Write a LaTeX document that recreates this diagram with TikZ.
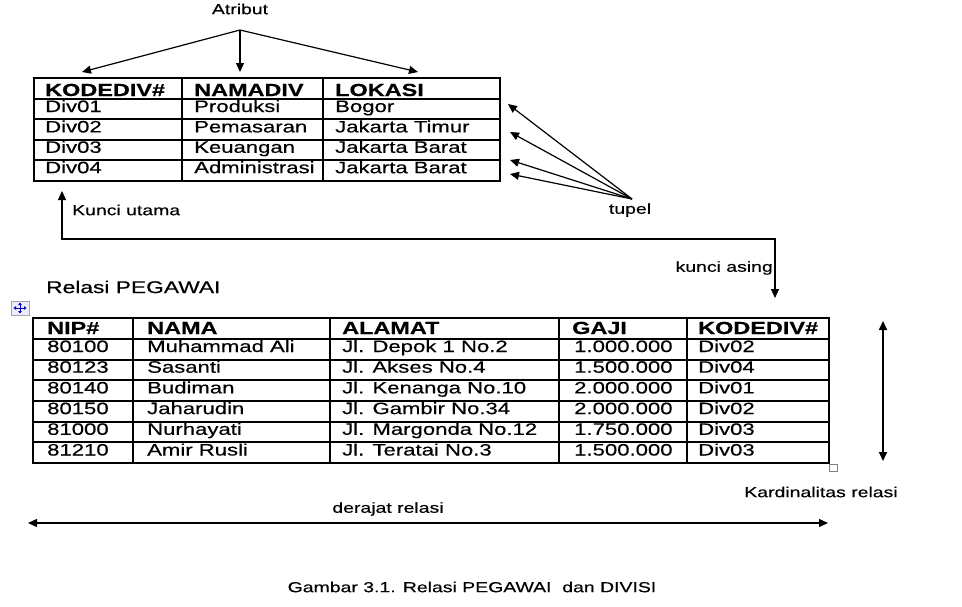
\documentclass[tikz,border=0pt]{standalone}
\usepackage{fontspec}
\setmainfont{Liberation Sans}
\newfontfamily\widefont[FakeStretch=1.34,FakeBold=0.4]{Liberation Sans}
\usetikzlibrary{arrows.meta,positioning}

\begin{document}
\begin{tikzpicture}[x=1pt,y=-1pt,>={Triangle[length=9pt,width=8pt]},
    every node/.style={inner sep=0pt},
    cell/.style={anchor=base west,font=\widefont\fontsize{16.5}{18}\selectfont},
    head/.style={cell,font=\widefont\bfseries\fontsize{17.5}{19}\selectfont},
    lbl/.style={font=\widefont\fontsize{14.5}{16}\selectfont},
    grid/.style={line width=1.3pt},
    frame/.style={line width=2pt},
    conn/.style={->,line width=1.2pt}]
  \useasboundingbox (0,0) rectangle (962,606);

  % Relasi DIVISI
  \draw[grid] (34,78) rectangle (500,181);
  \foreach \y in {99,140,160} \draw[grid] (34,\y) -- (500,\y);
  \draw[frame] (34,119) -- (500,119);
  \foreach \x in {182,323} \draw[grid] (\x,78) -- (\x,181);
  \node[head] (hkode) at (45,96) {KODEDIV\#};
  \node[head] (hnama) at (194,96) {NAMADIV};
  \node[head] (hlok) at (335,96) {LOKASI};
  \foreach \a/\b/\c [count=\i] in {Div01/Produksi/Bogor,
      Div02/Pemasaran/Jakarta Timur, Div03/Keuangan/Jakarta Barat,
      Div04/Administrasi/Jakarta Barat} {
    \pgfmathsetmacro\yb{112+20.4*(\i-1)}
    \node[cell] (div\i) at (45,\yb) {\a};
    \node[cell] (nama\i) at (194,\yb) {\b};
    \node[cell] (lok\i) at (335,\yb) {\c};
  }

  % Atribut
  \node[lbl] (atribut) at (240,9) {Atribut};
  \coordinate (atr) at (240,30);
  \coordinate (atr1) at (82,72);
  \coordinate (atr2) at (240,72);
  \coordinate (atr3) at (418,72);
  \foreach \t in {atr1,atr2,atr3} \draw[conn] (atr) -- (\t);

  % Tupel
  \node[lbl] (tupel) at (630,210) {tupel};
  \coordinate (tp) at (632,199);
  \coordinate (tp1) at (508,104);
  \coordinate (tp2) at (510,132);
  \coordinate (tp3) at (510,160);
  \coordinate (tp4) at (510,174);
  \foreach \t in {tp1,tp2,tp3,tp4} \draw[conn] (tp) -- (\t);

  % Kunci utama / kunci asing
  \coordinate (ut) at (62,191);
  \coordinate (kc) at (775,239);
  \coordinate (ka) at (775,298);
  \draw[conn,<->] (ut) |- (kc) -- (ka);
  \node[lbl,anchor=west] (kutama) at (72,210) {Kunci utama};
  \node[lbl,anchor=east] (kasing) at (773,268) {kunci asing};

  % Relasi PEGAWAI
  \node[anchor=west,font=\widefont\fontsize{17}{19}\selectfont] (judul) at (46,287) {Relasi PEGAWAI};
  \draw[gray!70,fill=blue!8] (11,301) rectangle (29,315);
  \draw[blue!70!black,line width=1pt,<->,>={Triangle[length=2.5pt,width=3.5pt]}] (13.5,308) -- (26.5,308);
  \draw[blue!70!black,line width=1pt,<->,>={Triangle[length=2.5pt,width=3.5pt]}] (20,302.5) -- (20,313.5);

  \draw[frame] (33,318) rectangle (829,463);
  \foreach \y in {339,380,401,442} \draw[grid] (33,\y) -- (829,\y);
  \foreach \y in {360,422} \draw[frame] (33,\y) -- (829,\y);
  \foreach \x in {133,330,559,687} \draw[grid] (\x,318) -- (\x,463);
  \draw[gray,line width=0.8pt,fill=white] (829.5,464) rectangle (837.5,471);
  \node[head] (hnip) at (47,334) {NIP\#};
  \node[head] (hnm) at (147,334) {NAMA};
  \node[head] (hal) at (342,334) {ALAMAT};
  \node[head] (hgaji) at (572,334) {GAJI};
  \node[head] (hdiv) at (698,334) {KODEDIV\#};
  \foreach \a/\b/\c/\d/\e [count=\i] in {80100/Muhammad Ali/Jl. Depok 1 No.2/1.000.000/Div02,
      80123/Sasanti/Jl. Akses No.4/1.500.000/Div04,
      80140/Budiman/Jl. Kenanga No.10/2.000.000/Div01,
      80150/Jaharudin/Jl. Gambir No.34/2.000.000/Div02,
      81000/Nurhayati/Jl. Margonda No.12/1.750.000/Div03,
      81210/Amir Rusli/Jl. Teratai No.3/1.500.000/Div03} {
    \pgfmathsetmacro\yb{352+20.7*(\i-1)}
    \node[cell] (nip\i) at (47,\yb) {\a};
    \node[cell] (peg\i) at (147,\yb) {\b};
    \node[cell] (alm\i) at (342,\yb) {\c};
    \node[cell] (gaji\i) at (574,\yb) {\d};
    \node[cell] (kdv\i) at (698,\yb) {\e};
  }

  % Kardinalitas dan derajat
  \coordinate (kd1) at (883,321);
  \coordinate (kd2) at (883,461);
  \draw[conn,<->,line width=1.7pt] (kd1) -- (kd2);
  \node[lbl] (kardinal) at (821,492) {Kardinalitas relasi};
  \coordinate (dr1) at (28,523);
  \coordinate (dr2) at (828,523);
  \draw[conn,<->] (dr1) -- (dr2);
  \node[lbl] (derajat) at (388,509) {derajat relasi};

  \node[lbl] (caption) at (472,587) {Gambar 3.1. Relasi PEGAWAI\ \ dan DIVISI};
\end{tikzpicture}
\end{document}
